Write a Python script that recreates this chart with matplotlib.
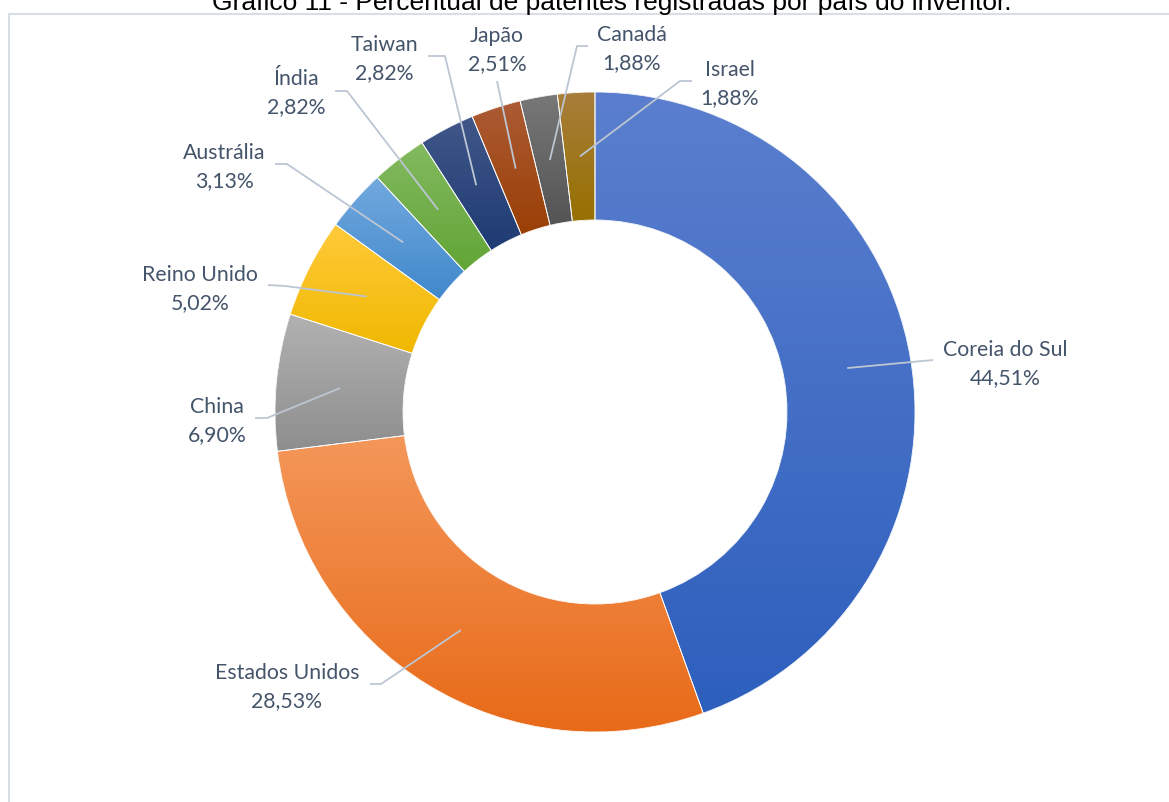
import numpy as np
import matplotlib.pyplot as plt
from matplotlib.colors import to_rgba
from matplotlib.lines import Line2D
from matplotlib.patches import Wedge

# ── Data ─────────────────────────────────────────────────────
paises = ['Coreia do Sul', 'Estados Unidos', 'China', 'Reino Unido', 'Austrália',
          'Índia', 'Taiwan', 'Japão', 'Canadá', 'Israel']
percentuais = [44.51, 28.53, 6.90, 5.02, 3.13, 2.82, 2.82, 2.51, 1.88, 1.88]

# ── Style ────────────────────────────────────────────────────
cor_base = ['#4472C4', '#ED7D31', '#A5A5A5', '#FFC000', '#5B9BD5',
            '#70AD47', '#264478', '#9E480E', '#636363', '#997300']
cor_topo = ['#5B7FCE', '#F4975A', '#B2B2B2', '#FFCA3A', '#72A9DF',
            '#83BA61', '#415789', '#AC5B35', '#787878', '#A87E3C']
cor_fundo = ['#2D5FBD', '#E86A18', '#8E8E8E', '#F0B800', '#4088CB',
             '#62A535', '#1E3B73', '#9A3F05', '#545454', '#967000']
cor_texto = '#44546A'
cor_linha = '#BCC6D3'

# layout in pixels (reference 1169x803), centre of the donut and radius
W, H = 1169, 803
CX, CY, R = 595, 413, 320

def px(x, y):
    return ((x - CX) / R, (CY - y) / R)

label_xy = [(1005, 364), (287, 687), (217, 421), (200, 289), (224, 167),
            (296, 93), (384, 59), (497, 50), (632, 49), (730, 84)]
elbow_xy = [(933, 361), (381, 685), (267, 419), (285, 287), (287, 165),
            (347, 92), (445, 57), (497, 82), (577, 47), (680, 82)]
end_xy = [(933, 361), (370, 685), (255, 419), (268, 286), (275, 165),
          (335, 92), (428, 57), (497, 82), (588, 47), (692, 82)]

# ── Plot ─────────────────────────────────────────────────────
fig = plt.figure(figsize=(W / 100, H / 100), dpi=100)
ax = fig.add_axes([0, 0, 1, 1])

wedges, _ = ax.pie(percentuais, colors=cor_base, startangle=90, counterclock=False,
                   radius=1.0, wedgeprops=dict(width=0.4, linewidth=0))

# vertical gradient on each slice, clipped to the slice
for w, c1, c2 in zip(wedges, cor_topo, cor_fundo):
    t = np.linspace(np.radians(w.theta1), np.radians(w.theta2), 200)
    xs = np.concatenate([w.r * np.cos(t), (w.r - w.width) * np.cos(t)])
    ys = np.concatenate([w.r * np.sin(t), (w.r - w.width) * np.sin(t)])
    a, b = np.array(to_rgba(c2)), np.array(to_rgba(c1))
    f = np.linspace(0, 1, 256)[:, None]
    grad = (a * (1 - f) + b * f)[:, None, :]
    im = ax.imshow(grad, extent=[xs.min(), xs.max(), ys.min(), ys.max()],
                   origin='lower', aspect='auto', interpolation='bilinear', zorder=2)
    im.set_clip_path(w)

# thin white separators
for w in wedges:
    ax.add_patch(Wedge(w.center, w.r, w.theta1, w.theta2, width=w.width,
                       facecolor='none', edgecolor='white', linewidth=0.6, zorder=3))

# labels with leader lines
for i, w in enumerate(wedges):
    ang = np.radians((w.theta1 + w.theta2) / 2)
    x0, y0 = 0.8 * np.cos(ang), 0.8 * np.sin(ang)
    ex, ey = px(*elbow_xy[i])
    fx, fy = px(*end_xy[i])
    ax.plot([x0, ex, fx], [y0, ey, fy], color=cor_linha, linewidth=1.3, zorder=4,
            solid_capstyle='butt')
    lx, ly = px(*label_xy[i])
    txt = f"{paises[i]}\n{percentuais[i]:.2f}%".replace('.', ',')
    ax.text(lx, ly, txt, ha='center', va='center', fontsize=15.3, family='Lato',
            color=cor_texto, linespacing=1.55, zorder=5)

ax.set_xlim(px(0, 0)[0], px(W, 0)[0])
ax.set_ylim(px(0, H)[1], px(0, 0)[1])
ax.axis('off')

# chart frame (cut by the page at right and bottom)
fx0, fy0 = 8.5 / W, 1 - 14.5 / H
fig.add_artist(Line2D([fx0, fx0], [0, fy0], color='#D9DEE5', linewidth=1.5))
fig.add_artist(Line2D([fx0, 1], [fy0, fy0], color='#D9DEE5', linewidth=1.5))

fig.text(612 / W, 1 - 10 / H, 'Gráfico 11 - Percentual de patentes registradas por país do inventor.',
         ha='center', va='baseline', fontsize=19, family='Liberation Sans', color='black')

plt.savefig('out.png', dpi=100)
